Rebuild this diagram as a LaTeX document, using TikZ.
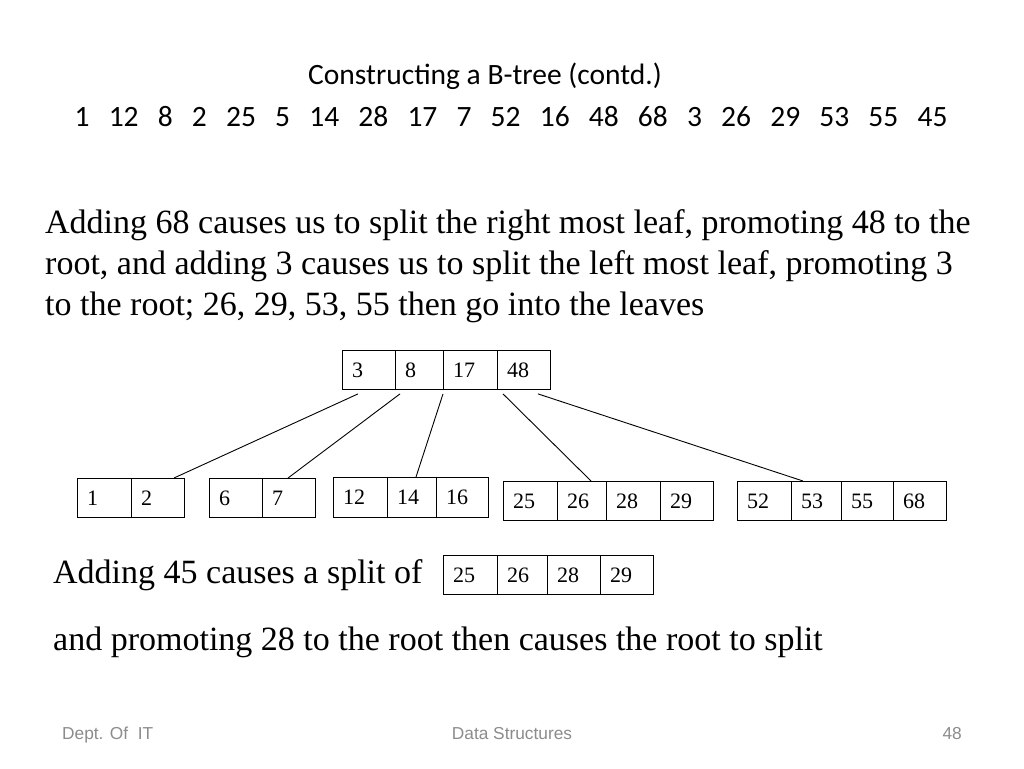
\documentclass[tikz,border=0pt]{standalone}
\usepackage{fontspec}
\setmainfont{Liberation Serif}
\newfontfamily\calibri{Carlito}
\newfontfamily\arialf{Liberation Sans}
\usetikzlibrary{calc}
\definecolor{footgray}{HTML}{8C8C8C}
\newcommand\gp{\hspace{0.65em}}
\tikzset{
  cell/.style={draw=black, line width=0.9pt, rectangle, inner sep=0pt, fill=white},
  num/.style={inner sep=0pt, font=\fontsize{22}{25}\selectfont},
  body/.style={inner sep=0pt, anchor=base west, font=\fontsize{34}{40}\selectfont},
  ttl/.style={inner sep=0pt, anchor=base, font=\calibri\fontsize{29.5}{34}\selectfont},
  foot/.style={inner sep=0pt, anchor=base, text=footgray, font=\arialf\fontsize{17.3}{20}\selectfont},
  edge/.style={draw=black, line width=0.9pt}
}
\newcommand\bcell[6]{%
  \node[cell, minimum width=#4, minimum height=#5, anchor=north west] (#1) at (#2,#3) {};
  \node[num, anchor=west] (#1-t) at ([xshift=10]#1.west) {#6};
}
\begin{document}
\begin{tikzpicture}[x=1pt,y=-1pt]
\fill[white] (0,0) rectangle (1024,768);
\useasboundingbox (0,0) rectangle (1024,768);

% title
\node[ttl] (title1) at (485,84) {Constructing a B-tree (contd.)};
\node[ttl] (title2) at (511,126) {1\gp12\gp8\gp2\gp25\gp5\gp14\gp28\gp17\gp7\gp52\gp16\gp48\gp68\gp3\gp26\gp29\gp53\gp55\gp45};

% body
\node[body] (b1) at (45,233) {Adding 68 causes us to split the right most leaf, promoting 48 to the};
\node[body] (b2) at (45,274) {root, and adding 3 causes us to split the left most leaf, promoting 3};
\node[body] (b3) at (45,315) {to the root; 26, 29, 53, 55 then go into the leaves};

% root
\bcell{r1}{342}{350}{53}{39}{3}
\bcell{r2}{395}{350}{48}{39}{8}
\bcell{r3}{443}{350}{54}{39}{17}
\bcell{r4}{497}{350}{53}{39}{48}

% leaves
\bcell{l1a}{77}{478}{54}{39}{1}
\bcell{l1b}{131}{478}{53}{39}{2}
\bcell{l2a}{209}{478}{53}{39}{6}
\bcell{l2b}{262}{478}{53}{39}{7}
\bcell{l3a}{333}{477}{54}{40}{12}
\bcell{l3b}{387}{477}{49}{40}{14}
\bcell{l3c}{436}{477}{52}{40}{16}
\bcell{l4a}{503}{481}{54}{39}{25}
\bcell{l4b}{557}{481}{49}{39}{26}
\bcell{l4c}{606}{481}{54}{39}{28}
\bcell{l4d}{660}{481}{53}{39}{29}
\bcell{l5a}{737}{481}{54}{39}{52}
\bcell{l5b}{791}{481}{50}{39}{53}
\bcell{l5c}{841}{481}{52}{39}{55}
\bcell{l5d}{893}{481}{53}{39}{68}

% connectors
\draw[edge] ($(r1.south west)+(16,4)$) -- ($(l1b.north west)+(43,0)$);
\draw[edge] ($(r2.south west)+(5,4)$) -- ($(l2b.north west)+(26,0)$);
\draw[edge] ($(r3.south west)+(0,4)$) -- ($(l3b.north west)+(29,0)$);
\draw[edge] ($(r4.south west)+(6,4)$) -- ($(l4b.north west)+(34,0)$);
\draw[edge] ($(r4.south west)+(41,4)$) -- ($(l5b.north west)+(12,0)$);

% split text
\node[body] (b4) at (53,583) {Adding 45 causes a split of};
\bcell{s1}{443}{555}{54}{39}{25}
\bcell{s2}{497}{555}{50}{39}{26}
\bcell{s3}{547}{555}{53}{39}{28}
\bcell{s4}{600}{555}{53}{39}{29}
\node[body] (b5) at (53,650) {and promoting 28 to the root then causes the root to split};

% footer
\node[foot, anchor=base west] (f1) at (62,739) {Dept. Of\ \ IT};
\node[foot] (f2) at (512,739) {Data Structures};
\node[foot, anchor=base east] (f3) at (962,739) {48};
\end{tikzpicture}
\end{document}
